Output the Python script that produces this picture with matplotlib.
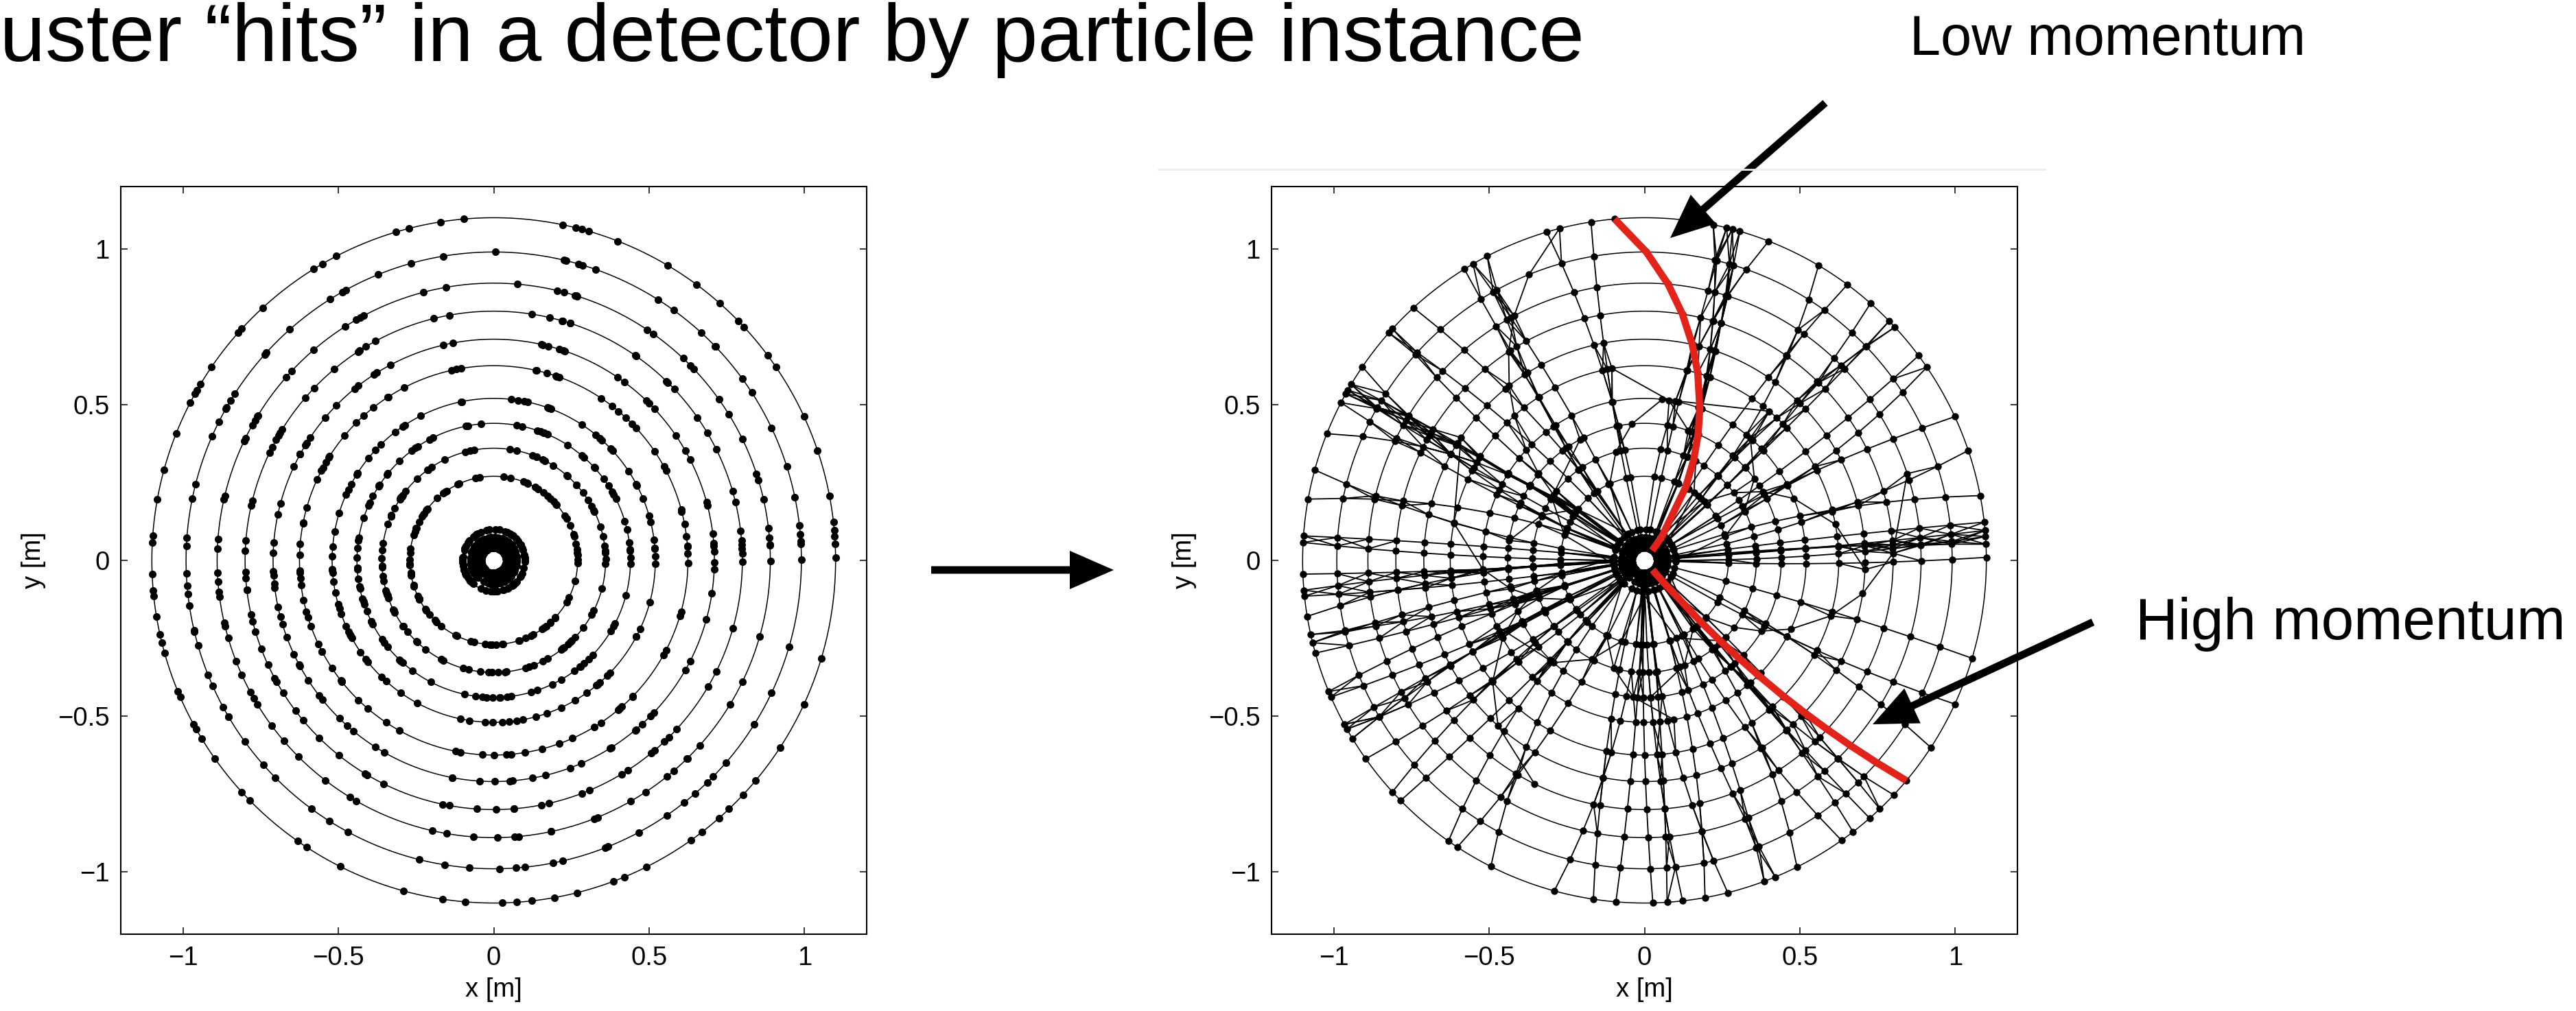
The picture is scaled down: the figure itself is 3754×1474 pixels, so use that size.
import numpy as np
import matplotlib
matplotlib.use("Agg")
import matplotlib.pyplot as plt
from matplotlib.collections import LineCollection
from matplotlib.patches import FancyArrow

# ---------------------------------------------------------------- data
# detector layers (radius, m)
RING_RADII = [0.04, 0.055, 0.075, 0.10, 0.27, 0.36, 0.44, 0.52,
              0.625, 0.71, 0.80, 0.89, 0.99, 1.10]

# particle tracks that reach the outer layer:
# azimuth where each one crosses the outer layer (deg)
TRACK_PHI_OUT = [
    0.5, 2.7, 4.0, 5.0, 6.4, 10.9, 18.7, 24.8, 34.3, 36.7, 42.9, 44.3,
    48.6, 53.6, 59.4, 68.7, 73.8, 75.1, 76.1, 78.4, 95.0,
    99.0, 104.4, 106.6, 117.4, 120.1, 121.8, 132.5, 137.5, 138.4, 145.6,
    149.1, 150.2, 150.9, 152.6, 158.3, 164.7, 169.7, 175.9, 177.0,
    182.3, 185.0, 186.0, 189.4, 192.5, 193.9, 195.7, 202.5, 203.5, 208.6,
    209.5, 211.3, 215.4, 222.5, 224.5, 235.0, 236.8, 243.3, 254.7, 261.4,
    265.2,
    271.4, 273.8, 276.4, 280.2, 284.1, 290.5, 292.5, 296.5, 305.2, 307.6,
    311.2, 313.5, 316.8, 320.0, 326.9, 335.2, 343.4,
]
# signed track curvature (1/m, positive = bends counter-clockwise)
TRACK_CURV = [
    0.10, -0.10, 0.15, 0.05, -0.05, -0.30, 0.30, -0.20, 0.40, 0.20, -0.30, 0.10,
    0.30, -0.20, 0.50, -0.60, 0.20, 0.35, -0.10, 0.50, 1.27,
    -0.15, -1.50, 0.30, -0.40, 0.20, -0.10, 0.30, -0.20, 0.25, -0.50,
    0.10, -0.10, 0.20, -0.20, 0.60, -0.30, 0.40, 0.05, -0.10,
    -0.05, 0.10, -0.10, 0.30, -0.20, 0.15, -0.10, 0.20, -0.15, 0.05,
    -0.30, 0.25, -0.20, 0.30, -0.10, 0.40, -0.30, 0.50, -0.40, 0.20,
    -0.10,
    0.10, -0.10, 0.20, -0.30, 0.35, -0.25, 0.20, -0.50, 0.30, -0.20,
    0.10, -0.15, 0.40, 0.31, -0.30, 0.20, -0.10,
]
# low-momentum tracks that curl up before the outer layers:
# initial direction (deg) and curvature (1/m)
LOOPER_PHI0 = [30, 65, 110, 140, 170, 200, 215, 230, 250, 285, 300, 340, 350]
LOOPER_CURV = [3.0, -2.6, 4.0, -3.2, 2.4, -4.5, 3.5, -2.8, 5.0, -3.8, 2.2,
               -4.2, 3.3]

LOW_MOMENTUM_TRACK = TRACK_PHI_OUT.index(95.0)
HIGH_MOMENTUM_TRACK = TRACK_PHI_OUT.index(320.0)

AXIS_TICKS = [-1, -0.5, 0, 0.5, 1]
AXIS_TICK_LABELS = ["\u22121", "\u22120.5", "0", "0.5", "1"]
AXIS_LIMITS = (-1.2, 1.2)

TITLE_FULL = "Cluster \u201chits\u201d in a detector by particle instance"
TITLE_CUT = "Cl"

# ---------------------------------------------------------------- geometry
W, H, DPI = 3754, 1474, 100
FONT = "Liberation Sans"
RED = "#e3221a"

radii = np.array(RING_RADII)
k_out = np.array(TRACK_CURV)
phi0_out = np.radians(TRACK_PHI_OUT) - np.arcsin(radii[-1] * k_out / 2.0)
phi0 = np.concatenate([phi0_out, np.radians(LOOPER_PHI0)])
curv = np.concatenate([k_out, np.array(LOOPER_CURV, dtype=float)])

# azimuth of every hit: circle through the origin crossing each layer
arg = radii[None, :] * curv[:, None] / 2.0
reach = np.abs(arg) <= 1.0
hit_phi = np.where(reach, phi0[:, None] + np.arcsin(np.clip(arg, -1, 1)),
                   np.nan)
hit_x = radii[None, :] * np.cos(hit_phi)
hit_y = radii[None, :] * np.sin(hit_phi)

# candidate graph edges between hits on neighbouring layers
EDGE_WINDOW = np.radians(2.2)
segments = []
n_tracks, n_layers = hit_phi.shape
for i in range(n_layers - 1):
    a = hit_phi[:, i]
    b = hit_phi[:, i + 1]
    d = np.angle(np.exp(1j * (b[None, :] - a[:, None])))
    ok = np.isfinite(a)[:, None] & np.isfinite(b)[None, :]
    mask = ok & ((np.abs(np.nan_to_num(d, nan=9.0)) < EDGE_WINDOW)
                 | np.eye(n_tracks, dtype=bool))
    for p, q in zip(*np.nonzero(mask)):
        segments.append([(hit_x[p, i], hit_y[p, i]),
                         (hit_x[q, i + 1], hit_y[q, i + 1])])

valid = np.isfinite(hit_x)
pts_x = hit_x[valid]
pts_y = hit_y[valid]

# ---------------------------------------------------------------- figure
fig = plt.figure(figsize=(W / DPI, H / DPI), dpi=DPI)
fig.patch.set_facecolor("white")


def px_box(x0, y0, x1, y1):
    return [x0 / W, 1 - y1 / H, (x1 - x0) / W, (y1 - y0) / H]


ax_left = fig.add_axes(px_box(176, 272, 1263, 1362))
ax_right = fig.add_axes(px_box(1853, 272, 2940, 1362))

theta = np.linspace(0, 2 * np.pi, 721)
for ax in (ax_left, ax_right):
    for r in RING_RADII:
        ax.plot(r * np.cos(theta), r * np.sin(theta), color="black",
                lw=1.1, zorder=1)
    ax.set_xlim(*AXIS_LIMITS)
    ax.set_ylim(*AXIS_LIMITS)
    ax.set_xticks(AXIS_TICKS)
    ax.set_yticks(AXIS_TICKS)
    ax.set_xticklabels(AXIS_TICK_LABELS, family=FONT)
    ax.set_yticklabels(AXIS_TICK_LABELS, family=FONT)
    ax.tick_params(direction="in", top=True, right=True, length=7,
                   width=1.1, labelsize=27.5, pad=12)
    for s in ax.spines.values():
        s.set_linewidth(1.5)
    ax.set_xlabel("x [m]", fontsize=27.5, family=FONT)
    ax.set_ylabel("y [m]", fontsize=27.5, family=FONT)
    ax.xaxis.set_label_coords(0.5, -0.058)
    ax.yaxis.set_label_coords(-0.10, 0.5)

# left: hits only
ax_left.plot(pts_x, pts_y, "o", color="black", ms=8, mec="none", zorder=3)

# right: hit graph
ax_right.add_collection(LineCollection(segments, colors="black",
                                       linewidths=1.3, zorder=2))
ax_right.plot(pts_x, pts_y, "o", color="black", ms=7.5, mec="none", zorder=3)
for t in (LOW_MOMENTUM_TRACK, HIGH_MOMENTUM_TRACK):
    ax_right.plot(hit_x[t], hit_y[t], color=RED, lw=7.5,
                  solid_capstyle="butt", solid_joinstyle="round", zorder=4)

# ---------------------------------------------------------------- overlay
ov = fig.add_axes([0, 0, 1, 1], zorder=10)
ov.set_xlim(0, W)
ov.set_ylim(H, 0)
ov.axis("off")
ov.patch.set_alpha(0)

fig.canvas.draw()
renderer = fig.canvas.get_renderer()


def text_width(s, size):
    t = ov.text(0, 0, s, fontsize=size, family=FONT)
    w = t.get_window_extent(renderer).width
    t.remove()
    return w


# title, with its first letters running off the left edge
w_rest = text_width(TITLE_FULL[len(TITLE_CUT):], 100)
title_size = 100 * 2310 / w_rest
w_full = text_width(TITLE_FULL, title_size)
w_rest = text_width(TITLE_FULL[len(TITLE_CUT):], title_size)
ov.text(-(w_full - w_rest), 89, TITLE_FULL, fontsize=title_size,
        family=FONT, ha="left", va="baseline", color="black")

label_size = 100 * 627 / text_width("High momentum", 100)
ov.text(3112, 932, "High momentum", fontsize=label_size, family=FONT,
        ha="left", va="baseline", color="black")
ov.text(3360, 80, "Low momentum", fontsize=label_size * 0.95, family=FONT,
        ha="right", va="baseline", color="black")

# faint separator above the right panel
ov.plot([1688, 2980], [247, 247], color="#ededed", lw=2)

# arrows
arrow_kw = dict(width=11, head_width=56, head_length=64,
                length_includes_head=True, color="black", lw=0)
ov.add_patch(FancyArrow(1357, 831, 1623 - 1357, 0, **arrow_kw))
ov.add_patch(FancyArrow(2660, 150, 2434 - 2660, 347 - 150, **arrow_kw))
ov.add_patch(FancyArrow(3050, 907, 2729 - 3050, 1056 - 907, **arrow_kw))

fig.savefig("out.png", dpi=DPI, facecolor="white")
